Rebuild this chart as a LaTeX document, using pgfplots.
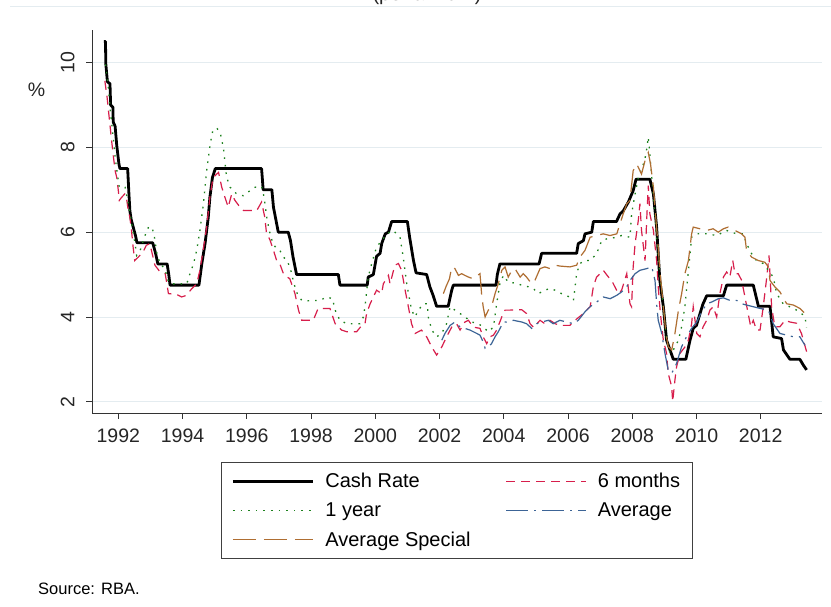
\documentclass[border=0pt]{standalone}
\usepackage{pgfplots}
\pgfplotsset{compat=1.18}
\usepackage{fontspec}
\setmainfont{Liberation Sans}
\definecolor{crRed}{RGB}{215,30,75}
\definecolor{fGreen}{RGB}{30,130,30}
\definecolor{avBlue}{RGB}{60,100,150}
\definecolor{avBrown}{RGB}{175,110,50}
\definecolor{gridc}{RGB}{228,236,240}
\begin{document}
\begin{tikzpicture}
\useasboundingbox (0,0) rectangle (831pt,607pt);
\fill[white] (0,0) rectangle (831pt,607pt);
\draw[gridc, line width=0.8pt] (10pt,601pt) -- (831pt,601pt);
\node[anchor=base, font=\fontsize{20}{24}\selectfont, text=black!85] at (427pt,606pt) {(per annum)};
\node[anchor=base west, font=\fontsize{16.5}{20}\selectfont, inner sep=0pt] at (38pt,12pt) {Source: RBA.};
\node[font=\fontsize{19.5}{22}\selectfont, text=black!85] at (36.5pt,517pt) {\%};
\begin{axis}[
  at={(92pt,194pt)}, anchor=south west,
  scale only axis, width=729.7pt, height=383pt,
  xmin=1991.18, xmax=2013.90, ymin=1.733, ymax=10.77,
  axis x line*=bottom, axis y line*=left,
  axis line style={black!80, line width=0.9pt},
  xtick={1992,1994,...,2012}, ytick={2,4,6,8,10},
  tick align=outside, major tick length=6pt,
  tick style={black!80, line width=0.8pt},
  ymajorgrids, grid style={gridc, line width=0.8pt},
  /pgf/number format/1000 sep={},
  /pgf/number format/assume math mode=true,
  xticklabel style={font=\fontsize{19.5}{22}\selectfont, text=black!85, yshift=-6pt},
  yticklabel style={font=\fontsize{19.5}{22}\selectfont, text=black!85, rotate=90, anchor=south, yshift=8pt},
  legend columns=2,
  legend cell align=left,
  legend style={at={(0.5,-0.128)}, anchor=north, draw=black!75, line width=0.8pt,
    font=\fontsize{20}{24}\selectfont, inner xsep=10pt, inner ysep=9pt, row sep=9.5pt,
    /tikz/every odd column/.append style={column sep=9pt},
    /tikz/every even column/.append style={column sep=33pt}},
  legend image code/.code={\draw[#1] (0pt,0pt) -- (80pt,0pt);},
]
% Cash Rate
\addplot[black, line width=2.8pt, line join=round] coordinates {
(1991.55,10.5)(1991.60,10.5)(1991.61,9.97)(1991.66,9.55)(1991.74,9.5)(1991.76,9.0)(1991.83,8.95)(1991.84,8.6)(1991.90,8.5)(1991.95,8.05)(1992.02,7.6)(1992.05,7.5)(1992.29,7.5)(1992.33,6.9)(1992.36,6.5)(1992.40,6.3)(1992.54,5.9)(1992.58,5.75)(1993.07,5.75)(1993.16,5.5)(1993.23,5.25)(1993.52,5.25)(1993.57,5.0)(1993.61,4.75)(1994.51,4.75)(1994.60,5.26)(1994.70,5.73)(1994.80,6.35)(1994.85,6.82)(1994.93,7.29)(1995.02,7.5)(1996.46,7.5)(1996.51,7.0)(1996.78,7.0)(1996.83,6.59)(1996.98,6.0)(1997.29,6.0)(1997.36,5.8)(1997.44,5.41)(1997.55,5.0)(1998.85,5.0)(1998.90,4.75)(1999.75,4.75)(1999.78,4.94)(1999.94,5.0)(2000.04,5.43)(2000.15,5.5)(2000.20,5.73)(2000.31,5.96)(2000.41,6.0)(2000.51,6.25)(2001.00,6.25)(2001.07,5.88)(2001.19,5.33)(2001.27,5.04)(2001.60,5.0)(2001.70,4.71)(2001.80,4.51)(2001.91,4.25)(2002.27,4.25)(2002.38,4.63)(2002.43,4.75)(2003.76,4.75)(2003.80,5.0)(2003.88,5.25)(2005.10,5.25)(2005.18,5.5)(2006.27,5.5)(2006.32,5.73)(2006.48,5.8)(2006.53,5.96)(2006.74,6.0)(2006.79,6.25)(2007.51,6.25)(2007.62,6.43)(2007.72,6.5)(2007.88,6.71)(2008.03,6.98)(2008.12,7.25)(2008.55,7.25)(2008.66,6.9)(2008.76,6.12)(2008.86,4.86)(2008.97,4.24)(2009.07,3.45)(2009.28,3.0)(2009.67,3.0)(2009.80,3.45)(2009.90,3.73)(2010.00,3.8)(2010.20,4.3)(2010.32,4.5)(2010.84,4.5)(2010.94,4.75)(2011.77,4.75)(2011.93,4.25)(2012.29,4.25)(2012.39,3.53)(2012.65,3.49)(2012.71,3.22)(2012.91,3.0)(2013.22,3.0)(2013.33,2.86)(2013.43,2.75)
};
\addlegendentry{Cash Rate}
% 6 months
\addplot[crRed, line width=1.2pt, dash pattern=on 9pt off 6pt] coordinates {
(1991.58,9.57)(1991.65,9.18)(1991.72,8.67)(1991.79,8.16)(1991.85,7.76)(1991.90,7.45)(1991.95,7.29)(1992.00,6.98)(1992.03,6.75)(1992.10,6.82)(1992.20,6.9)(1992.25,6.82)(1992.31,6.51)(1992.36,6.35)(1992.41,6.04)(1992.46,5.65)(1992.51,5.33)(1992.62,5.41)(1992.77,5.53)(1992.87,5.69)(1992.98,5.73)(1993.14,5.22)(1993.30,5.06)(1993.46,5.02)(1993.56,4.55)(1993.82,4.53)(1993.97,4.47)(1994.12,4.51)(1994.29,4.67)(1994.44,4.78)(1994.54,5.1)(1994.64,5.57)(1994.75,6.12)(1994.85,6.82)(1994.95,7.29)(1995.12,7.41)(1995.22,7.06)(1995.32,6.82)(1995.42,6.59)(1995.53,6.9)(1995.63,6.75)(1995.78,6.6)(1995.90,6.51)(1996.10,6.51)(1996.31,6.51)(1996.46,6.71)(1996.56,6.35)(1996.61,6.0)(1996.73,5.8)(1996.83,5.57)(1996.93,5.33)(1997.03,5.25)(1997.14,5.02)(1997.24,4.95)(1997.34,4.9)(1997.50,4.55)(1997.61,4.16)(1997.71,3.92)(1998.07,3.92)(1998.22,4.2)(1998.59,4.2)(1998.75,3.84)(1998.95,3.69)(1999.11,3.65)(1999.42,3.65)(1999.58,3.8)(1999.68,3.84)(1999.73,4.08)(1999.84,4.31)(1999.94,4.47)(2000.04,4.63)(2000.20,4.55)(2000.25,4.78)(2000.41,4.98)(2000.46,4.78)(2000.61,5.22)(2000.72,5.26)(2000.82,5.1)(2000.93,4.63)(2001.03,4.24)(2001.13,3.84)(2001.24,3.61)(2001.44,3.69)(2001.60,3.53)(2001.76,3.29)(2001.91,3.1)(2002.07,3.29)(2002.22,3.53)(2002.38,3.76)(2002.53,3.84)(2002.64,3.69)(2002.79,3.88)(2002.90,3.92)(2003.05,3.76)(2003.26,3.73)(2003.36,3.53)(2003.47,3.37)(2003.57,3.53)(2003.68,3.57)(2003.78,3.69)(2003.94,4.0)(2004.04,4.16)(2004.19,4.16)(2004.40,4.17)(2004.56,4.17)(2004.71,4.08)(2004.82,3.84)(2004.92,3.76)(2005.03,3.84)(2005.13,3.92)(2005.28,3.84)(2005.44,3.92)(2005.60,3.84)(2005.75,3.8)(2006.06,3.8)(2006.22,3.92)(2006.48,4.08)(2006.58,4.16)(2006.69,4.24)(2006.79,4.71)(2006.89,4.94)(2007.00,5.02)(2007.10,5.1)(2007.26,4.94)(2007.36,4.86)(2007.46,4.71)(2007.57,4.55)(2007.67,4.63)(2007.83,5.02)(2007.93,4.31)(2007.98,4.24)(2008.03,5.18)(2008.09,5.73)(2008.19,6.28)(2008.24,6.67)(2008.29,6.04)(2008.40,5.33)(2008.45,6.28)(2008.50,7.1)(2008.55,6.43)(2008.66,6.04)(2008.76,5.33)(2008.81,4.71)(2008.86,4.24)(2008.92,3.77)(2008.97,3.45)(2009.07,3.14)(2009.12,2.67)(2009.23,2.35)(2009.26,2.0)(2009.33,2.51)(2009.38,2.82)(2009.49,3.14)(2009.64,3.29)(2009.75,3.45)(2009.85,3.84)(2009.90,4.24)(2010.01,3.61)(2010.11,3.53)(2010.21,3.77)(2010.32,3.92)(2010.42,4.16)(2010.52,4.24)(2010.63,4.0)(2010.73,4.55)(2010.84,4.94)(2010.94,5.06)(2011.04,4.94)(2011.13,5.33)(2011.20,5.02)(2011.30,5.02)(2011.41,4.86)(2011.51,4.47)(2011.61,4.08)(2011.69,3.77)(2011.77,3.92)(2011.87,3.69)(2011.98,3.69)(2012.08,4.24)(2012.19,4.94)(2012.26,5.45)(2012.34,4.24)(2012.44,3.77)(2012.60,3.77)(2012.76,3.92)(2012.91,3.88)(2013.12,3.85)(2013.27,3.61)(2013.43,3.18)
};
\addlegendentry{6 months}
% 1 year
\addplot[fGreen, line width=1.3pt, dash pattern=on 1.6pt off 6pt] coordinates {
(1991.60,9.96)(1991.69,9.41)(1991.74,8.94)(1991.85,8.16)(1991.90,7.77)(1991.97,7.37)(1992.03,7.06)(1992.21,7.06)(1992.31,6.67)(1992.36,6.47)(1992.45,6.04)(1992.52,5.73)(1992.57,5.45)(1992.68,5.57)(1992.83,5.92)(1992.94,6.12)(1993.04,6.12)(1993.11,5.96)(1993.19,5.53)(1993.30,5.25)(1993.45,5.14)(1993.56,4.82)(1993.71,4.78)(1994.13,4.78)(1994.23,5.02)(1994.34,5.25)(1994.44,5.57)(1994.54,6.04)(1994.65,6.67)(1994.75,7.45)(1994.86,8.08)(1994.94,8.39)(1995.06,8.46)(1995.17,8.35)(1995.27,8.0)(1995.37,7.3)(1995.48,7.06)(1995.58,6.98)(1995.69,6.9)(1995.89,6.86)(1996.10,6.98)(1996.26,7.06)(1996.46,7.08)(1996.54,6.82)(1996.62,6.35)(1996.70,6.04)(1996.81,5.73)(1996.93,5.61)(1997.03,5.57)(1997.14,5.41)(1997.26,5.33)(1997.37,5.1)(1997.47,4.78)(1997.57,4.55)(1997.71,4.39)(1997.97,4.38)(1998.28,4.39)(1998.49,4.47)(1998.67,4.43)(1998.75,4.16)(1998.90,3.92)(1999.11,3.84)(1999.32,3.84)(1999.52,3.84)(1999.63,4.0)(1999.68,4.24)(1999.78,4.94)(1999.89,5.26)(2000.04,5.65)(2000.20,5.8)(2000.36,5.96)(2000.56,6.04)(2000.77,5.88)(2000.87,5.41)(2000.98,4.78)(2001.13,4.16)(2001.24,4.0)(2001.34,4.16)(2001.50,4.31)(2001.62,4.31)(2001.65,4.0)(2001.76,3.69)(2001.91,3.53)(2002.07,3.61)(2002.22,3.84)(2002.33,4.24)(2002.48,4.16)(2002.64,4.08)(2002.79,4.0)(2003.00,3.88)(2003.21,3.84)(2003.36,3.76)(2003.52,3.65)(2003.68,3.76)(2003.78,4.31)(2003.88,4.78)(2003.99,4.98)(2004.14,4.82)(2004.35,4.8)(2004.56,4.75)(2004.77,4.71)(2004.92,4.67)(2005.08,4.55)(2005.28,4.63)(2005.44,4.67)(2005.60,4.63)(2005.80,4.55)(2005.96,4.51)(2006.17,4.39)(2006.27,5.02)(2006.37,5.26)(2006.53,5.33)(2006.69,5.33)(2006.89,5.49)(2007.05,5.8)(2007.20,5.84)(2007.52,5.88)(2007.67,5.92)(2007.93,5.88)(2007.98,6.43)(2008.09,6.9)(2008.19,7.29)(2008.35,7.61)(2008.43,7.84)(2008.50,8.24)(2008.55,7.84)(2008.60,7.37)(2008.71,6.43)(2008.76,5.88)(2008.86,5.02)(2008.97,4.24)(2009.07,3.45)(2009.18,3.14)(2009.28,3.22)(2009.44,3.45)(2009.54,3.77)(2009.64,4.24)(2009.75,5.1)(2009.85,5.88)(2010.01,5.96)(2010.32,5.96)(2010.63,5.92)(2010.94,6.04)(2011.25,5.96)(2011.46,5.96)(2011.56,5.73)(2011.72,5.49)(2011.87,5.33)(2012.08,5.26)(2012.24,5.1)(2012.39,4.94)(2012.50,4.55)(2012.70,4.31)(2013.02,4.2)(2013.22,4.12)(2013.38,4.0)(2013.43,3.75)
};
\addlegendentry{1 year}
% Average
\addplot[avBlue, line width=1.2pt, dash pattern=on 22pt off 6pt on 2pt off 6pt] coordinates {
(2002.07,3.45)(2002.17,3.61)(2002.33,3.8)(2002.48,3.88)(2002.64,3.76)(2002.79,3.73)(2002.95,3.69)(2003.16,3.61)(2003.26,3.57)(2003.36,3.41)(2003.42,3.26)(2003.52,3.29)(2003.62,3.37)(2003.73,3.53)(2003.83,3.65)(2003.99,3.88)(2004.09,3.88)(2004.30,3.92)(2004.56,3.88)(2004.71,3.84)(2004.87,3.73)(2005.03,3.84)(2005.18,3.88)(2005.39,3.92)(2005.54,3.84)(2005.75,3.92)(2005.96,3.88)(2006.17,3.84)(2006.32,3.92)(2006.53,4.12)(2006.69,4.24)(2006.89,4.35)(2007.10,4.47)(2007.31,4.43)(2007.52,4.51)(2007.67,4.59)(2007.83,4.71)(2007.93,4.86)(2008.09,5.02)(2008.24,5.1)(2008.45,5.14)(2008.61,5.18)(2008.71,4.86)(2008.76,4.31)(2008.81,3.92)(2008.92,3.61)(2009.02,3.14)(2009.12,2.75)(2009.23,2.67)(2009.38,2.9)(2009.54,3.3)(2009.69,3.53)(2009.85,3.73)(2010.01,3.88)(2010.16,4.12)(2010.32,4.31)(2010.47,4.35)(2010.68,4.43)(2010.84,4.45)(2011.04,4.39)(2011.25,4.39)(2011.41,4.31)(2011.56,4.28)(2011.77,4.24)(2011.98,4.2)(2012.24,4.16)(2012.39,3.84)(2012.60,3.61)(2012.81,3.57)(2013.02,3.53)(2013.22,3.53)(2013.38,3.33)
};
\addlegendentry{Average}
% Average Special
\addplot[avBrown, line width=1.2pt, dash pattern=on 23pt off 8pt] coordinates {
(2002.12,4.55)(2002.20,4.71)(2002.31,4.9)(2002.38,5.18)(2002.48,5.14)(2002.59,4.98)(2002.69,5.02)(2002.79,4.98)(2002.90,4.94)(2003.05,4.9)(2003.26,5.02)(2003.31,4.55)(2003.36,4.24)(2003.42,4.0)(2003.52,4.16)(2003.62,4.24)(2003.73,4.55)(2003.83,4.78)(2003.94,5.1)(2004.04,5.18)(2004.14,4.94)(2004.25,5.1)(2004.35,5.14)(2004.51,4.94)(2004.61,5.02)(2004.71,4.94)(2004.87,4.78)(2004.97,4.86)(2005.13,5.14)(2005.28,5.18)(2005.44,5.14)(2005.60,5.22)(2005.75,5.2)(2006.06,5.18)(2006.27,5.22)(2006.37,5.41)(2006.53,5.57)(2006.69,5.88)(2006.89,5.92)(2007.10,5.96)(2007.31,5.92)(2007.52,5.96)(2007.62,6.2)(2007.72,6.43)(2007.83,6.67)(2007.93,6.75)(2008.03,7.45)(2008.14,7.61)(2008.29,7.37)(2008.40,7.69)(2008.50,7.88)(2008.57,7.61)(2008.66,7.06)(2008.74,6.28)(2008.81,5.65)(2008.86,5.1)(2008.97,4.24)(2009.05,3.61)(2009.12,3.3)(2009.23,3.22)(2009.33,3.61)(2009.44,4.16)(2009.54,4.55)(2009.64,5.02)(2009.75,5.33)(2009.85,5.96)(2009.90,6.12)(2010.11,6.08)(2010.32,6.04)(2010.52,6.08)(2010.68,6.0)(2010.84,6.08)(2010.99,6.12)(2011.20,6.04)(2011.41,5.96)(2011.51,5.88)(2011.56,5.57)(2011.72,5.41)(2011.93,5.33)(2012.13,5.29)(2012.24,5.18)(2012.29,4.86)(2012.44,4.71)(2012.60,4.59)(2012.81,4.31)(2013.02,4.28)(2013.22,4.2)(2013.38,4.08)(2013.43,4.0)
};
\addlegendentry{Average Special}
\end{axis}
\end{tikzpicture}
\end{document}
